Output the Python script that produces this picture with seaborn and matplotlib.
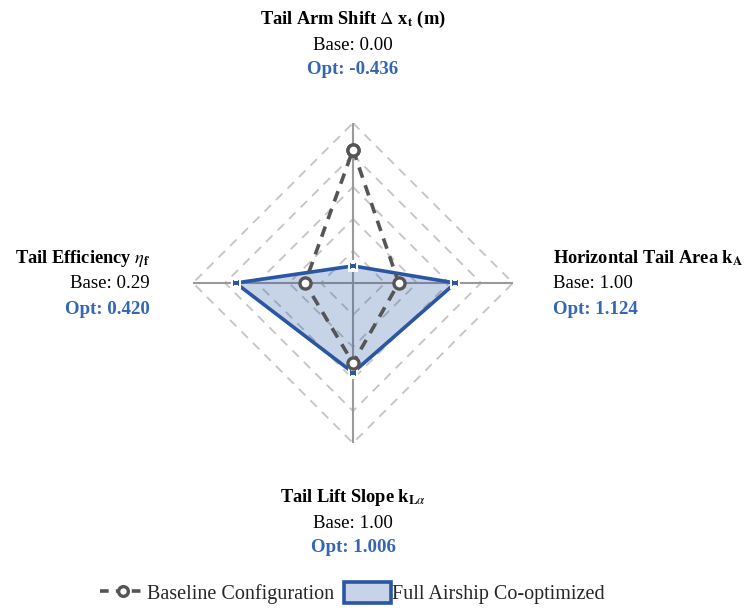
import numpy as np
import pandas as pd
import matplotlib
matplotlib.use("Agg")
import matplotlib.pyplot as plt
from matplotlib.lines import Line2D
from matplotlib.patches import Patch
import seaborn as sns

# Design parameters (clockwise from top)
params = [
    r"Tail Arm Shift $\Delta$ x$_\mathbf{t}$ (m)",
    r"Horizontal Tail Area k$_\mathbf{A}$",
    r"Tail Lift Slope k$_{\mathbf{L}\alpha}$",
    r"Tail Efficiency $\eta_\mathbf{f}$",
]
baseline = [0.00, 1.00, 1.00, 0.29]
optimized = [-0.436, 1.124, 1.006, 0.420]
base_labels = ["0.00", "1.00", "1.00", "0.29"]
opt_labels = ["-0.436", "1.124", "1.006", "0.420"]
# Normalisation range of each axis
lower = [-0.5, 0.90, 0.95, 0.20]
upper = [0.1, 1.25, 1.05, 0.50]
ring_levels = [0.2, 0.4, 0.6, 0.8, 1.0]

BLUE = "#2a56a3"
BLUE_TXT = "#3566b4"
GREY = "#555555"

sns.set_theme(style="white")
plt.rcParams["font.family"] = ["Liberation Serif", "DejaVu Serif"]
plt.rcParams["mathtext.fontset"] = "stix"

W, H = 747, 610
fig = plt.figure(figsize=(W / 100, H / 100), dpi=100)
cx, cy, R = 353, 283, 160
ax = fig.add_axes([(cx - R) / W, (H - cy - R) / H, 2 * R / W, 2 * R / H], projection="polar")
ax.set_theta_zero_location("N")
ax.set_theta_direction(-1)
ax.set_ylim(0, 1)
ax.grid(False)
ax.set_xticks([])
ax.set_yticks([])
ax.spines["polar"].set_visible(False)
ax.set_facecolor("none")

n = len(params)
theta = np.arange(n) * 2 * np.pi / n
theta_c = np.append(theta, 2 * np.pi)

# polygonal grid rings
for lv in ring_levels:
    ax.plot(theta_c, [lv] * (n + 1), color="#c4c4c4", lw=1.3, ls=(0, (5, 4)), zorder=1)
# spokes
for t in theta:
    ax.plot([t, t], [0, 1], color="#9a9a9a", lw=1.5, zorder=1)

def norm(vals):
    return [(v - lo) / (hi - lo) for v, lo, hi in zip(vals, lower, upper)]

r_base = norm(baseline)
r_opt = norm(optimized)

df_opt = pd.DataFrame({"theta": theta_c, "r": r_opt + [r_opt[0]]})
df_base = pd.DataFrame({"theta": theta_c, "r": r_base + [r_base[0]]})

ax.fill(df_opt["theta"], df_opt["r"], color=BLUE, alpha=0.26, lw=0, zorder=2)
sns.lineplot(data=df_opt, x="theta", y="r", ax=ax, sort=False, estimator=None,
             color=BLUE, lw=2.6, marker="s", markersize=5.5,
             markerfacecolor=BLUE, markeredgecolor="white", markeredgewidth=1.5, zorder=4)
sns.lineplot(data=df_base, x="theta", y="r", ax=ax, sort=False, estimator=None,
             color=GREY, lw=2.6, ls=(0, (3, 2.2)), marker="o", markersize=8,
             markerfacecolor="white", markeredgecolor=GREY, markeredgewidth=2.4, zorder=5)
ax.set_xlabel("")
ax.set_ylabel("")
ax.set_ylim(0, 1)

def px(x, y):
    return x / W, 1 - y / H

# axis annotations: (x, title_y, align)
anno = [
    (353, 19, "center"),
    (553, 258, "left"),
    (353, 497, "center"),
    (150, 258, "right"),
]
fs = 13.6
fs_title = 13.2
for i, (x, y0, ha) in enumerate(anno):
    fig.text(*px(x, y0), params[i], ha=ha, va="center", fontsize=fs_title, fontweight="bold", color="black")
    fig.text(*px(x, y0 + 26), f"Base: {base_labels[i]}", ha=ha, va="center", fontsize=fs, color="black")
    fig.text(*px(x, y0 + 51), f"Opt: {opt_labels[i]}", ha=ha, va="center", fontsize=fs,
             fontweight="bold", color=BLUE_TXT)

handles = [
    Line2D([], [], color=GREY, lw=2.6, ls=(0, (2.4, 2.0)), marker="o", markersize=7,
           markerfacecolor="white", markeredgecolor=GREY, markeredgewidth=2.4),
    Patch(facecolor="#c6d3e8", edgecolor=BLUE, lw=2.6),
]
fig.legend(handles, ["Baseline Configuration", "Full Airship Co-optimized"],
           loc="center", bbox_to_anchor=px(352, 593), ncol=2, frameon=False,
           fontsize=14.5, handlelength=2.3, handleheight=1.2, handletextpad=0.05, columnspacing=0.5)

fig.savefig("out.png", dpi=100, facecolor="white")
